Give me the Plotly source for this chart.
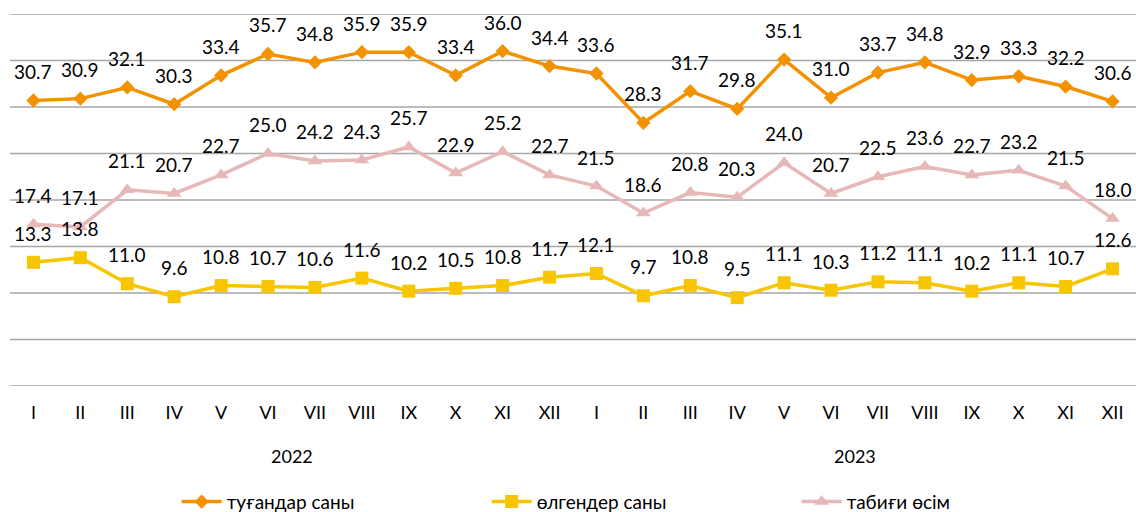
import plotly.graph_objects as go

months = ["I", "II", "III", "IV", "V", "VI", "VII", "VIII", "IX", "X", "XI", "XII"]
years = ["2022", "2023"]
births = [30.7, 30.9, 32.1, 30.3, 33.4, 35.7, 34.8, 35.9, 35.9, 33.4, 36.0, 34.4,
          33.6, 28.3, 31.7, 29.8, 35.1, 31.0, 33.7, 34.8, 32.9, 33.3, 32.2, 30.6]
deaths = [13.3, 13.8, 11.0, 9.6, 10.8, 10.7, 10.6, 11.6, 10.2, 10.5, 10.8, 11.7,
          12.1, 9.7, 10.8, 9.5, 11.1, 10.3, 11.2, 11.1, 10.2, 11.1, 10.7, 12.6]
growth = [17.4, 17.1, 21.1, 20.7, 22.7, 25.0, 24.2, 24.3, 25.7, 22.9, 25.2, 22.7,
          21.5, 18.6, 20.8, 20.3, 24.0, 20.7, 22.5, 23.6, 22.7, 23.2, 21.5, 18.0]
names = ["туғандар саны", "өлгендер саны", "табиғи өсім"]
grid_values = [0, 5, 10, 15, 20, 25, 30, 35, 40]

FONT = "Lato, 'Noto Sans', sans-serif"
x = list(range(len(births)))
ticktext = [m for _ in years for m in months]

series = [
    (births, names[0], "#F39200", "diamond", 11),
    (deaths, names[1], "#F7C600", "square", 13),
    (growth, names[2], "#E6B8B7", "triangle-up", 13),
]

fig = go.Figure()
for vals, name, col, sym, size in series:
    fig.add_trace(go.Scatter(
        x=x, y=vals, name=name, mode="lines+markers",
        line=dict(color=col, width=3.5),
        marker=dict(color=col, symbol=sym, size=size),
        hoverinfo="skip",
    ))

# horizontal gridlines (drawn as shapes so the edge lines at 0 and 40 show too)
for gv in grid_values:
    fig.add_shape(
        type="line", xref="paper", x0=0, x1=1, yref="y", y0=gv, y1=gv,
        line=dict(color="#A6A6A6", width=1.5), layer="below",
    )

annotations = []
for vals, name, col, sym, size in series:
    for xi, v in zip(x, vals):
        annotations.append(dict(
            x=xi, y=v, xref="x", yref="y", text=f"{v:.1f}", showarrow=False,
            yshift=29, yanchor="middle", xanchor="center",
            font=dict(family=FONT, size=19, color="#000000"),
        ))

for i, yr in enumerate(years):
    grp = x[i * len(months):(i + 1) * len(months)]
    annotations.append(dict(
        x=(grp[0] + grp[-1]) / 2, y=0, xref="x", yref="paper", text=yr,
        showarrow=False, yshift=-70, yanchor="middle",
        font=dict(family=FONT, size=18, color="#000000"),
    ))

fig.update_layout(
    width=1136, height=512,
    margin=dict(l=10, r=0, t=14, b=126, autoexpand=False),
    paper_bgcolor="white", plot_bgcolor="white",
    font=dict(family=FONT, size=18, color="#000000"),
    showlegend=True,
    legend=dict(
        orientation="h", x=0.148, xanchor="left",
        yref="container", y=0.02, yanchor="middle",
        font=dict(family=FONT, size=19, color="#000000"),
        entrywidth=255, itemwidth=40, bgcolor="rgba(0,0,0,0)",
    ),
    annotations=annotations,
)
fig.update_xaxes(
    range=[-0.5, len(x) - 0.5], tickmode="array", tickvals=x, ticktext=ticktext,
    showgrid=False, zeroline=False, showline=False, ticks="",
    ticklabelstandoff=14, tickfont=dict(family=FONT, size=18),
)
fig.update_yaxes(
    range=[grid_values[0], grid_values[-1]], tickmode="array", tickvals=grid_values,
    showgrid=False, zeroline=False, showticklabels=False, showline=False,
)

fig.write_html(
    "out.html",
    config={"displayModeBar": False},
    post_script="document.body.style.margin='0';document.body.style.overflow='hidden';",
)
